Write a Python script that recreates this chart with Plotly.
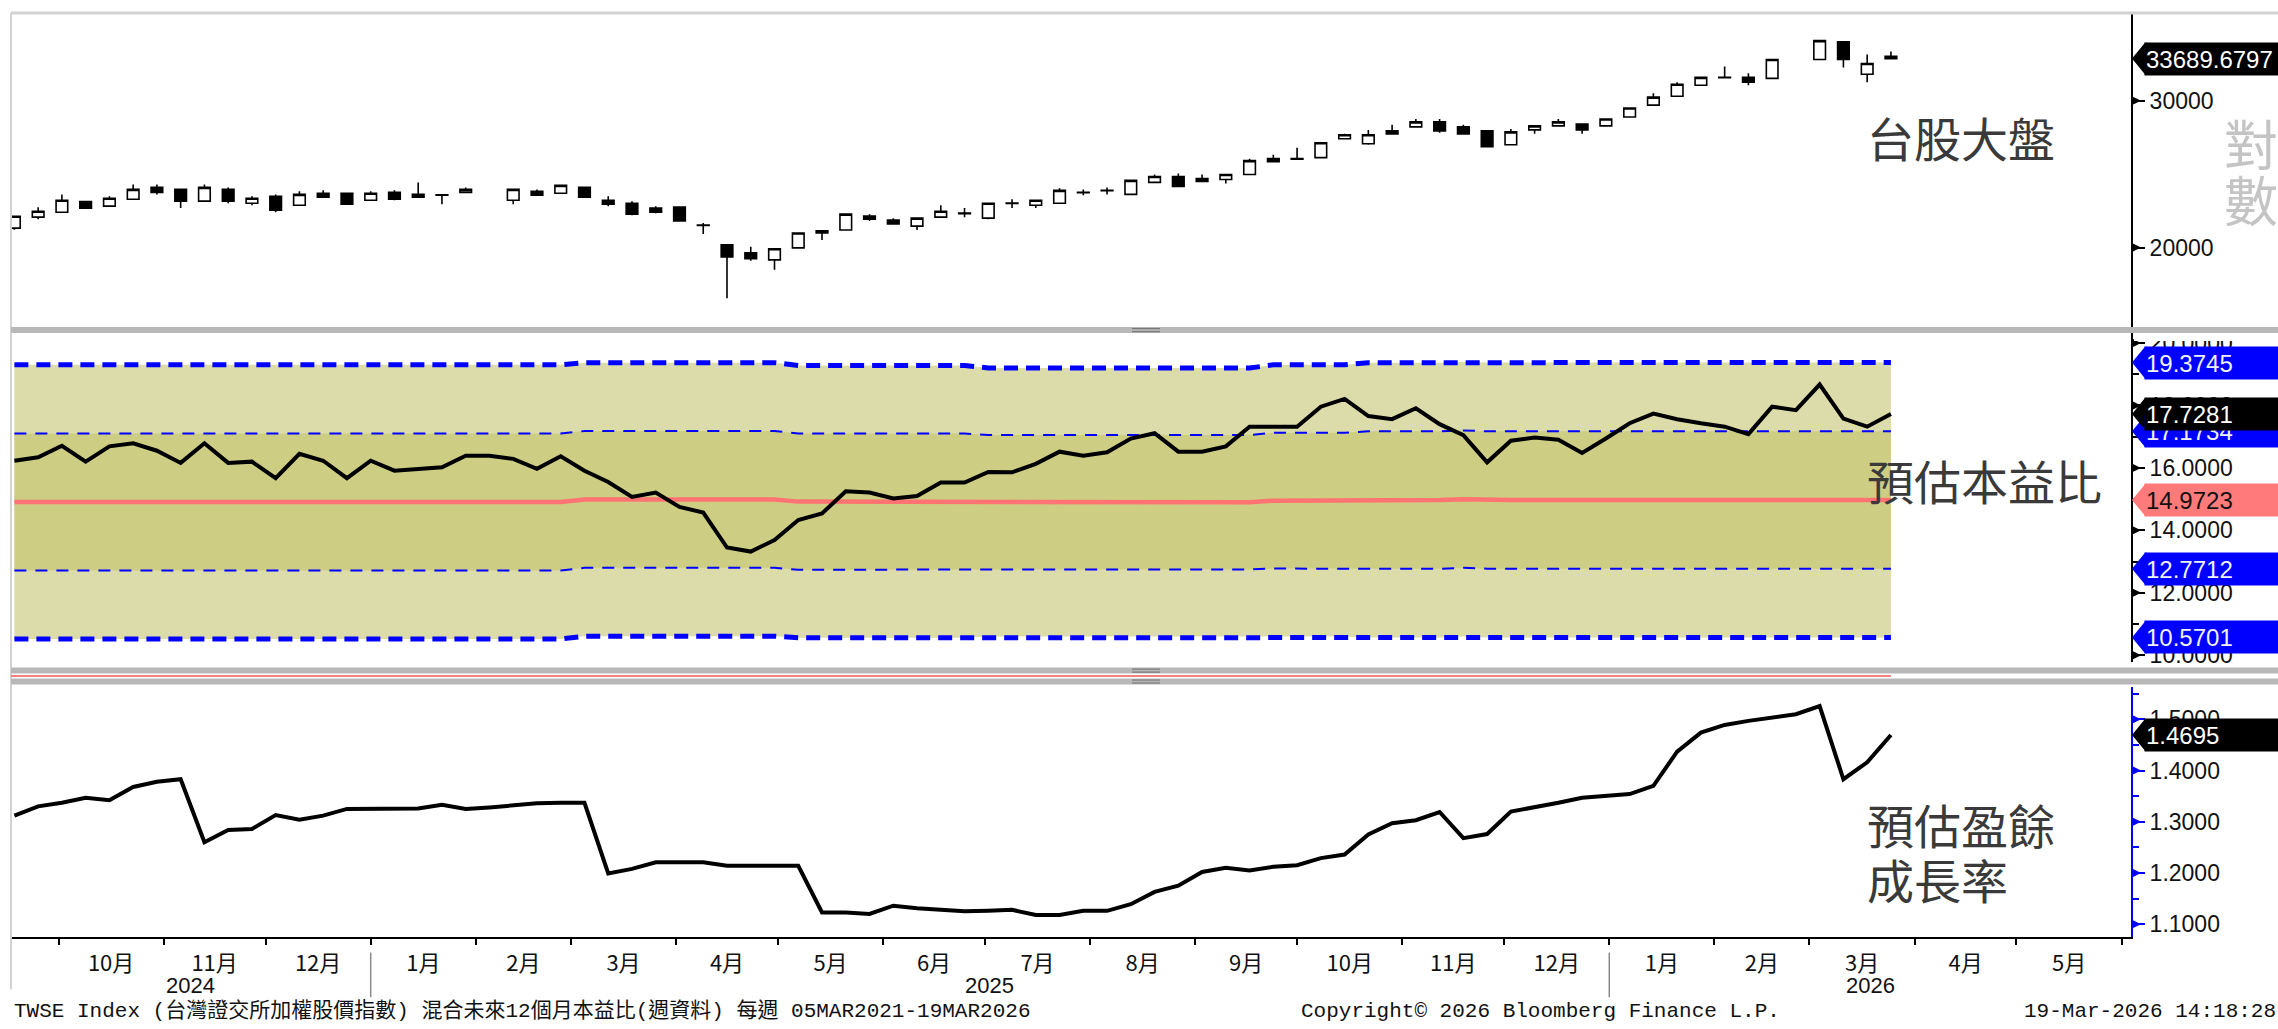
import math
import datetime as dt
import plotly.graph_objects as go

W, H = 2278, 1029

# ---------------------------------------------------------------- data
# one stamp per week (80 weeks); None marks the two Lunar New Year market closures
week_dates = [dt.date(2024, 9, 18) + dt.timedelta(weeks=k) for k in range(80)]

twse_open = [21100, 21750, 22050, 22700, 22420, 22850, 23610, 23480, 22730, 23480,
             22600, 23040, 22480, 23230, 23230, 22790, 23290, 23160, 23130, 23290,
             None, 22790, 23360, 23230, 23610, 22790, 22600, 22300, 22360, 21280,
             20150, 19710, 19330, 19980, 20940, 20990, 21810, 21580, 21220, 21750,
             21960, 21690, 22580, 22480, 22600, 23270, 23400, 23160, 23940, 24330,
             24200, 24130, 24470, 25560, 25520, 25630, 27000, 26630, 27600, 27900,
             28290, 27900, 27600, 26560, 27670, 27980, 28130, 27980, 28680, 29630,
             30370, 31300, 31950, 31990, 31900, None, 33610, 35300, 32260, 33900]
twse_high = [21850, 22350, 23160, 22720, 23040, 23800, 23800, 23480, 23800, 23610,
             23040, 23160, 23360, 23420, 23230, 23360, 23420, 23940, 23160, 23610,
             None, 23480, 23480, 23740, 23610, 23040, 22730, 22420, 22360, 21400,
             20150, 20040, 19930, 20820, 20940, 21930, 21930, 21690, 21750, 22480,
             22300, 22600, 22850, 22790, 23550, 23480, 23610, 24070, 24470, 24530,
             24470, 24470, 25560, 25840, 26340, 26710, 27370, 27670, 28060, 28520,
             28520, 28060, 27600, 27750, 27980, 28520, 28130, 28520, 29390, 30620,
             31560, 31990, 32970, 32350, 33610, None, 35500, 35300, 34070, 34350]
twse_low = [21000, 21630, 22050, 22250, 22420, 22850, 23160, 22300, 22730, 22600,
            22480, 22050, 22480, 22980, 22540, 22790, 22790, 22980, 22540, 23290,
            None, 22540, 23100, 23230, 22980, 22420, 21870, 21990, 21520, 20760,
            17390, 19280, 18810, 19980, 20420, 20990, 21520, 21340, 20990, 21750,
            21750, 21630, 22300, 22300, 22600, 23100, 23160, 23160, 23940, 23680,
            24000, 23870, 24470, 25350, 25500, 25630, 27000, 26560, 27370, 27900,
            27450, 27370, 26420, 26560, 27370, 27980, 27370, 27980, 28680, 29630,
            30370, 31300, 31950, 31300, 31900, None, 33610, 32880, 31560, 33600]
twse_close = [21800, 22110, 22790, 22300, 22910, 23480, 23290, 22730, 23610, 22730,
              22910, 22170, 23160, 22980, 22540, 23230, 22850, 22980, 23100, 23480,
              None, 23480, 23100, 23740, 22980, 22540, 21930, 22050, 21520, 21250,
              19490, 19390, 19930, 20820, 20820, 21930, 21630, 21340, 21690, 22110,
              22000, 22600, 22620, 22790, 23420, 23300, 23430, 24070, 24330, 23680,
              24000, 24470, 25420, 25350, 25560, 26710, 27300, 27300, 27370, 28290,
              27600, 27370, 26420, 27520, 27980, 28290, 27670, 28520, 29390, 30290,
              31390, 31990, 31990, 31560, 33610, None, 35400, 33610, 33240, 33689.6797]

# blended 12-month forward P/E
fwd_pe = [16.23, 16.34, 16.71, 16.20, 16.69, 16.79, 16.55, 16.16, 16.79, 16.16,
          16.20, 15.67, 16.45, 16.23, 15.67, 16.23, 15.91, 15.97, 16.02, 16.39,
          16.39, 16.29, 15.97, 16.37, 15.91, 15.55, 15.07, 15.21, 14.75, 14.57,
          13.45, 13.32, 13.69, 14.33, 14.54, 15.25, 15.21, 15.02, 15.10, 15.53,
          15.53, 15.87, 15.86, 16.13, 16.52, 16.39, 16.50, 16.94, 17.11, 16.52,
          16.52, 16.69, 17.32, 17.32, 17.32, 17.96, 18.21, 17.66, 17.56, 17.91,
          17.40, 17.05, 16.18, 16.87, 16.97, 16.90, 16.48, 16.94, 17.43, 17.74,
          17.56, 17.43, 17.32, 17.08, 17.96, 17.85, 18.67, 17.58, 17.32, 17.7281]

# rolling 5-year average of the P/E and its standard deviation
pe_mean = [14.91, 14.91, 14.91, 14.91, 14.91, 14.91, 14.91, 14.91, 14.91, 14.91,
           14.91, 14.91, 14.91, 14.91, 14.91, 14.91, 14.91, 14.91, 14.91, 14.91,
           14.91, 14.91, 14.91, 14.91, 14.99, 14.99, 14.99, 14.99, 14.99, 14.99,
           14.99, 14.99, 14.99, 14.92, 14.92, 14.92, 14.92, 14.92, 14.92, 14.92,
           14.92, 14.90, 14.90, 14.90, 14.90, 14.90, 14.90, 14.90, 14.90, 14.90,
           14.90, 14.90, 14.90, 14.95, 14.95, 14.95, 14.95, 14.97, 14.97, 14.97,
           14.97, 15.00, 14.9723, 14.9723, 14.9723, 14.9723, 14.9723, 14.9723, 14.9723, 14.9723,
           14.9723, 14.9723, 14.9723, 14.9723, 14.9723, 14.9723, 14.9723, 14.9723, 14.9723, 14.9723]
pe_sd = [2.195, 2.195, 2.195, 2.195, 2.195, 2.195, 2.195, 2.195, 2.195, 2.195,
         2.195, 2.195, 2.195, 2.195, 2.195, 2.195, 2.195, 2.195, 2.195, 2.195,
         2.195, 2.195, 2.195, 2.195, 2.19, 2.19, 2.19, 2.20, 2.20, 2.20,
         2.19, 2.19, 2.19, 2.18, 2.18, 2.18, 2.18, 2.18, 2.18, 2.18,
         2.18, 2.15, 2.15, 2.15, 2.15, 2.15, 2.15, 2.15, 2.15, 2.15,
         2.15, 2.15, 2.15, 2.175, 2.175, 2.175, 2.175, 2.20, 2.20, 2.20,
         2.20, 2.20, 2.2011, 2.2011, 2.2011, 2.2011, 2.2011, 2.2011, 2.2011, 2.2011,
         2.2011, 2.2011, 2.2011, 2.2011, 2.2011, 2.2011, 2.2011, 2.2011, 2.2011, 2.2011]

# forward earnings growth ratio
eps_growth = [1.312, 1.330, 1.337, 1.347, 1.342, 1.368, 1.378, 1.383, 1.260, 1.284,
              1.286, 1.313, 1.304, 1.312, 1.325, 1.325, 1.326, 1.326, 1.333, 1.325,
              1.328, 1.332, 1.336, 1.337, 1.337, 1.199, 1.208, 1.221, 1.221, 1.221,
              1.214, 1.214, 1.214, 1.214, 1.123, 1.123, 1.120, 1.136, 1.131, 1.128,
              1.125, 1.126, 1.128, 1.118, 1.118, 1.126, 1.126, 1.139, 1.163, 1.175,
              1.202, 1.210, 1.205, 1.212, 1.215, 1.229, 1.236, 1.275, 1.297, 1.303,
              1.319, 1.268, 1.276, 1.320, 1.328, 1.337, 1.347, 1.350, 1.354, 1.370,
              1.437, 1.474, 1.489, 1.497, 1.504, 1.510, 1.526, 1.383, 1.416, 1.4695]

price_ticks = [20000, 30000]
pe_ticks = [10, 12, 14, 16, 18, 20]
eps_ticks = [1.1, 1.2, 1.3, 1.4, 1.5]
year_starts = [dt.date(2025, 1, 1), dt.date(2026, 1, 1)]

footer_left = "TWSE Index (台灣證交所加權股價指數) 混合未來12個月本益比(週資料) 每週 05MAR2021-19MAR2026"
footer_mid = "Copyright© 2026 Bloomberg Finance L.P."
footer_right = "19-Mar-2026 14:18:28"

# ---------------------------------------------------------------- geometry helpers
def fx(p):
    return p / W


def fy(p):
    return 1 - p / H


X_L, X_R = 11, 2131
TOP = (10, 327)
MID = (333, 665)
BOT = (690, 942)
x_range = [dt.datetime(2024, 9, 17), dt.datetime(2026, 6, 3, 18)]
top_range = [math.log10(16055), math.log10(38218)]
mid_range = [9.7778, 20.3175]
bot_range = [1.0754, 1.5632]

NUM = "Liberation Sans"
CJK = "Noto Sans CJK TC"
MONO = "Liberation Mono, Noto Sans CJK TC"

fig = go.Figure()

# ---------------------------------------------------------------- index candles
ok = [k for k in range(len(week_dates)) if twse_close[k] is not None]
fig.add_trace(go.Candlestick(
    x=[week_dates[k] for k in ok],
    open=[twse_open[k] for k in ok], high=[twse_high[k] for k in ok],
    low=[twse_low[k] for k in ok], close=[twse_close[k] for k in ok],
    increasing=dict(line=dict(color="black", width=1.6), fillcolor="white"),
    decreasing=dict(line=dict(color="black", width=1.6), fillcolor="black"),
    whiskerwidth=0, xaxis="x", yaxis="y", showlegend=False, hoverinfo="skip"))

# ---------------------------------------------------------------- P/E bands
upper2 = [m + 2 * s for m, s in zip(pe_mean, pe_sd)]
upper1 = [m + s for m, s in zip(pe_mean, pe_sd)]
lower1 = [m - s for m, s in zip(pe_mean, pe_sd)]
lower2 = [m - 2 * s for m, s in zip(pe_mean, pe_sd)]


def mid_line(y, **kw):
    fig.add_trace(go.Scatter(x=week_dates, y=y, mode="lines", xaxis="x2", yaxis="y2",
                             showlegend=False, hoverinfo="skip", **kw))


mid_line(lower2, line=dict(width=0))
mid_line(upper2, line=dict(width=0), fill="tonexty", fillcolor="#dcdcaa")
mid_line(lower1, line=dict(width=0))
mid_line(upper1, line=dict(width=0), fill="tonexty", fillcolor="#cdcd83")
mid_line(upper2, line=dict(color="#0000ff", width=5, dash="14px,8px"))
mid_line(lower2, line=dict(color="#0000ff", width=5, dash="14px,8px"))
mid_line(upper1, line=dict(color="#0000ff", width=2, dash="12px,9px"))
mid_line(lower1, line=dict(color="#0000ff", width=2, dash="12px,9px"))
mid_line(pe_mean, line=dict(color="#ff7373", width=4.5))
mid_line(fwd_pe, line=dict(color="black", width=4))

# ---------------------------------------------------------------- EPS growth
fig.add_trace(go.Scatter(x=week_dates, y=eps_growth, mode="lines", xaxis="x3", yaxis="y3",
                         line=dict(color="black", width=4), showlegend=False, hoverinfo="skip"))

# ---------------------------------------------------------------- axes
xdom = [fx(X_L), fx(X_R)]
hidden_x = dict(domain=xdom, range=x_range, type="date", showticklabels=False,
                showline=False, showgrid=False, zeroline=False, ticks="")
yax_common = dict(side="right", showgrid=False, zeroline=False, showline=True,
                  linewidth=2, ticks="outside", ticklen=12, tickwidth=1.5,
                  tickfont=dict(family=NUM, size=23, color="#111"))

fig.update_layout(
    width=W, height=H, margin=dict(l=0, r=0, t=0, b=0),
    paper_bgcolor="white", plot_bgcolor="white", showlegend=False,
    font=dict(family=NUM, color="#111"),
    xaxis=dict(hidden_x, anchor="y", rangeslider=dict(visible=False)),
    xaxis2=dict(hidden_x, anchor="y2", matches="x"),
    xaxis3=dict(domain=xdom, range=x_range, type="date", anchor="y3", matches="x",
                showgrid=False, zeroline=False, showline=True, linecolor="black", linewidth=2,
                ticks="outside", ticklen=6, tickwidth=1.5, tickcolor="black",
                dtick="M1", tick0="2024-01-01", tickformat="%-m月", ticklabelmode="period",
                tickfont=dict(family=CJK, size=22, color="#111")),
    yaxis=dict(yax_common, domain=[fy(TOP[1]), fy(TOP[0])], type="log", range=top_range,
               anchor="x", linecolor="black", tickcolor="black",
               tickvals=price_ticks, ticktext=[str(v) for v in price_ticks]),
    yaxis2=dict(yax_common, domain=[fy(MID[1]), fy(MID[0])], range=mid_range,
                anchor="x2", linecolor="black", tickcolor="black",
                tickvals=pe_ticks, tickformat=".4f",
                minor=dict(dtick=1, tick0=0, ticks="outside", ticklen=6, tickcolor="black")),
    yaxis3=dict(yax_common, domain=[fy(BOT[1]), fy(BOT[0])], range=bot_range,
                anchor="x3", linecolor="#0000ff", tickcolor="#0000ff",
                tickvals=eps_ticks, tickformat=".4f",
                minor=dict(dtick=0.05, tick0=1.0, ticks="outside", ticklen=6, tickcolor="#0000ff")),
)

shapes = []
annotations = []


def hline(y, x0, x1, color, width):
    shapes.append(dict(type="line", xref="paper", yref="paper", x0=fx(x0), x1=fx(x1),
                       y0=fy(y), y1=fy(y), line=dict(color=color, width=width), layer="above"))


def note(x, y, text, font, xanchor="center", **kw):
    annotations.append(dict(x=fx(x), y=fy(y), xref="paper", yref="paper", text=text,
                            xanchor=xanchor, yanchor="middle", showarrow=False, font=font, **kw))


def arrow_ticks(yref, values, half, color):
    # small arrowheads on the major ticks of a right-hand axis
    for v in values:
        path = f"M {fx(X_R)},{v + half} L {fx(X_R + 10)},{v} L {fx(X_R)},{v - half} Z"
        shapes.append(dict(type="path", xref="paper", yref=yref, path=path,
                           fillcolor=color, line=dict(width=0), layer="above"))


top_span = top_range[1] - top_range[0]
arrow_ticks("y domain", [(math.log10(v) - top_range[0]) / top_span for v in price_ticks],
            5 / (TOP[1] - TOP[0]), "black")
mid_upp = (mid_range[1] - mid_range[0]) / (MID[1] - MID[0])
arrow_ticks("y2", pe_ticks, 5 * mid_upp, "black")
bot_upp = (bot_range[1] - bot_range[0]) / (BOT[1] - BOT[0])
arrow_ticks("y3", eps_ticks, 5 * bot_upp, "#0000ff")

# white strip masking the top of the middle panel's axis labels
shapes.append(dict(type="rect", xref="paper", yref="paper", x0=fx(X_R + 3), x1=1,
                   y0=fy(341), y1=fy(333), fillcolor="white", line=dict(width=0), layer="above"))

# frame and panel separators
hline(10, X_L, W, "#d2d2d2", 3)
shapes.append(dict(type="line", xref="paper", yref="paper", x0=fx(X_L), x1=fx(X_L),
                   y0=fy(10), y1=fy(995), line=dict(color="#d2d2d2", width=2)))
hline(330, X_L, W, "#b8b8b8", 6)
hline(673.5, X_L, W, "#b8b8b8", 6)
hline(684.5, X_L, W, "#b8b8b8", 6)
shapes.append(dict(type="line", xref="x2", yref="paper", x0=x_range[0], x1=week_dates[-1],
                   y0=fy(679), y1=fy(679), line=dict(color="#f08080", width=2)))
for yy in (328.5, 331.5, 672, 675, 683, 686):
    hline(yy, 1132, 1160, "#7a7a7a", 1.2)

# year dividers below the month labels
for ys in year_starts:
    shapes.append(dict(type="line", xref="x3", yref="paper", x0=ys, x1=ys,
                       y0=fy(958), y1=fy(1003), line=dict(color="#8a8a8a", width=1.5)))

bounds = [x_range[0]] + [dt.datetime.combine(d, dt.time()) for d in year_starts] + [x_range[1]]
for a, b in zip(bounds[:-1], bounds[1:]):
    m = a + (b - a) / 2
    annotations.append(dict(x=m, y=fy(991), xref="x3", yref="paper", text=str(m.year),
                            xanchor="center", yanchor="middle", showarrow=False,
                            font=dict(family=NUM, size=22, color="#111")))

# panel captions
cap_font = dict(family=CJK, size=47, color="#3a3a3a")
note(1865, 135, "台股大盤", cap_font, xanchor="left")
note(1865, 481, "預估本益比", cap_font, xanchor="left")
note(1865, 828, "預估盈餘", cap_font, xanchor="left")
note(1865, 883, "成長率", cap_font, xanchor="left")
axis_word_font = dict(family=CJK, size=54, color="#c4c4c4")
note(2251, 141, "對", axis_word_font)
note(2251, 197, "數", axis_word_font)

# footer
foot_font = dict(family=MONO, size=21, color="#111")
note(12, 1017, footer_left, foot_font, xanchor="left")
note(1540, 1017, footer_mid, foot_font)
note(2278, 1017, footer_right, foot_font, xanchor="right")

# value tags on the right-hand axes
TAG_HALF = 16


def tag(yref, yval, shape_ref, shape_y, unit_per_px, bg, fg, text):
    h = TAG_HALF * unit_per_px
    path = (f"M {fx(2132)},{shape_y} L {fx(2145)},{shape_y + h} L {fx(2147)},{shape_y + h} "
            f"L {fx(2147)},{shape_y - h} L {fx(2145)},{shape_y - h} Z")
    shapes.append(dict(type="path", xref="paper", yref=shape_ref, path=path,
                       fillcolor=bg, line=dict(width=0), layer="above"))
    annotations.append(dict(x=fx(2144), y=yval, xref="paper", yref=yref, xanchor="left",
                            yanchor="middle", text=text, showarrow=False, align="left",
                            width=150, height=2 * TAG_HALF - 2, borderpad=1, bgcolor=bg,
                            font=dict(family=NUM, size=24, color=fg)))


last_close = twse_close[-1]
tag("y", math.log10(last_close), "y domain", (math.log10(last_close) - top_range[0]) / top_span,
    1 / (TOP[1] - TOP[0]), "black", "white", f"{last_close:.4f}")

for v, bg, fg in [(upper2[-1], "#0000ff", "#f0f0ff"), (upper1[-1], "#0000ff", "#f0f0ff"),
                  (pe_mean[-1], "#ff7b7b", "#111"), (lower1[-1], "#0000ff", "#f0f0ff"),
                  (lower2[-1], "#0000ff", "#f0f0ff"), (fwd_pe[-1], "black", "white")]:
    tag("y2", v, "y2", v, mid_upp, bg, fg, f"{v:.4f}")

tag("y3", eps_growth[-1], "y3", eps_growth[-1], bot_upp, "black", "white", f"{eps_growth[-1]:.4f}")

fig.update_layout(shapes=shapes, annotations=annotations)
fig.write_html("out.html")
